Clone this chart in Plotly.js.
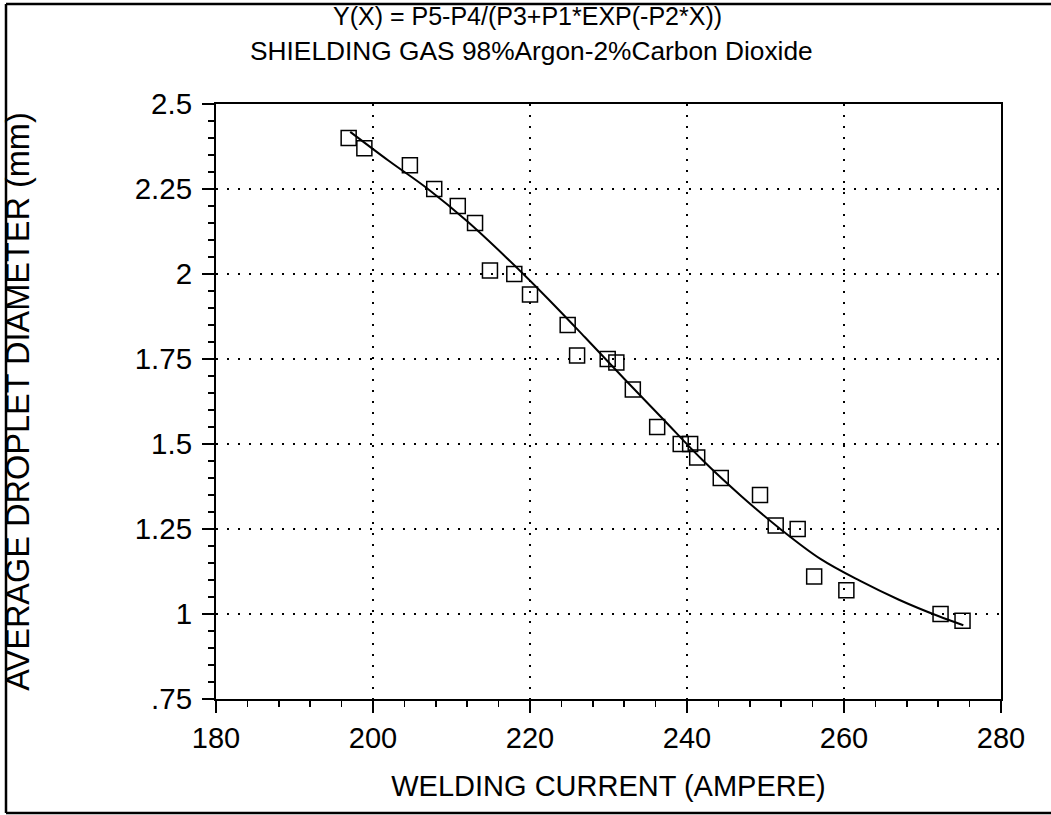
<!DOCTYPE html>
<html><head><meta charset="utf-8">
<script src="https://cdn.plot.ly/plotly-3.0.1.min.js"></script>
<style>html,body{margin:0;padding:0;background:#fff;} #chart{width:1051px;height:815px;}</style>
</head><body><div id="chart"></div>
<script>
// Measured droplet data (Welding current in A, average droplet diameter in mm)
const currentA   = [196.9, 198.9, 204.7, 207.8, 210.8, 213.0, 214.9, 218.0, 220.0, 224.8, 226.0, 229.9, 231.0, 233.1, 236.2, 239.2, 240.4, 241.3, 244.3, 249.3, 251.3, 254.1, 256.2, 260.3, 272.3, 275.1];
const diameterMm = [2.40, 2.37, 2.32, 2.25, 2.20, 2.15, 2.01, 2.00, 1.94, 1.85, 1.76, 1.75, 1.74, 1.66, 1.55, 1.50, 1.50, 1.46, 1.40, 1.35, 1.26, 1.25, 1.11, 1.07, 1.00, 0.98];
// Fitted curve
const fitCurrentA   = [197.1, 202, 207, 212, 217, 222, 227, 232, 237, 242, 247, 252, 257, 262, 267, 272, 275.2];
const fitDiameterMm = [2.418, 2.333, 2.250, 2.155, 2.048, 1.934, 1.814, 1.692, 1.572, 1.452, 1.345, 1.248, 1.162, 1.098, 1.042, 0.994, 0.967];
// Tick labels
const xTickVals = [180, 200, 220, 240, 260, 280];
const xTickText = ['180', '200', '220', '240', '260', '280'];
const yTickVals = [0.75, 1, 1.25, 1.5, 1.75, 2, 2.25, 2.5];
const yTickText = ['.75', '1', '1.25', '1.5', '1.75', '2', '2.25', '2.5'];
const titleLines = ['Y(X) = P5-P4/(P3+P1*EXP(-P2*X))', 'SHIELDING GAS 98%Argon-2%Carbon Dioxide'];
const xTitle = 'WELDING CURRENT (AMPERE)';
const yTitle = 'AVERAGE DROPLET DIAMETER (mm)';

const FONT = '"Liberation Sans", Arial, sans-serif';

const traces = [
  {x: fitCurrentA, y: fitDiameterMm, type: 'scatter', mode: 'lines',
   line: {color: '#000', width: 2, shape: 'spline', smoothing: 1}, hoverinfo: 'skip'},
  {x: currentA, y: diameterMm, type: 'scatter', mode: 'markers',
   marker: {symbol: 'square-open', size: 15, color: '#000', line: {width: 1.5, color: '#000'}}}
];

// plot area: x 216..1001, y 104..699 (px)
const L = 216, R = 1001, T = 104, B = 699, W = R - L, H = B - T;
const px = v => (v - L) / W;
const py = v => (B - v) / H;
const GRIDDASH = '2px,9px';

const layout = {
  width: 1051, height: 815,
  margin: {l: L, r: 1051 - R, t: T, b: 815 - B, pad: 0},
  paper_bgcolor: '#fff', plot_bgcolor: '#fff',
  showlegend: false,
  font: {family: FONT, color: '#000', size: 28},
  xaxis: {
    range: [180, 280], tickvals: xTickVals, ticktext: xTickText,
    ticks: 'outside', ticklen: 12, tickwidth: 1.5, tickcolor: '#000',
    showline: true, linecolor: '#000', linewidth: 2, mirror: true,
    showgrid: true, gridcolor: '#000', gridwidth: 1.5, griddash: GRIDDASH,
    zeroline: false,
    tickfont: {family: FONT, size: 29, color: '#000'},
    minor: {dtick: 4, ticks: 'outside', ticklen: 6, tickwidth: 1.5, tickcolor: '#000', showgrid: false},
    title: {text: xTitle, font: {family: FONT, size: 29, color: '#000'}, standoff: 23}
  },
  yaxis: {
    range: [0.75, 2.5], tickvals: yTickVals, ticktext: yTickText,
    ticks: 'outside', ticklen: 12, tickwidth: 1.5, tickcolor: '#000',
    showline: true, linecolor: '#000', linewidth: 2, mirror: true,
    showgrid: true, gridcolor: '#000', gridwidth: 1.5, griddash: GRIDDASH,
    zeroline: false, ticklabelstandoff: 4,
    tickfont: {family: FONT, size: 29.5, color: '#000'},
    minor: {dtick: 0.05, ticks: 'outside', ticklen: 6, tickwidth: 1.5, tickcolor: '#000', showgrid: false},
    title: {text: yTitle, font: {family: FONT, size: 32.5, color: '#000'}, standoff: 99}
  },
  annotations: [
    {text: titleLines[0], xref: 'paper', yref: 'paper', x: px(527.5), y: py(16), xanchor: 'center', yanchor: 'middle',
     showarrow: false, font: {family: FONT, size: 25, color: '#000'}},
    {text: titleLines[1], xref: 'paper', yref: 'paper', x: px(531), y: py(51), xanchor: 'center', yanchor: 'middle',
     showarrow: false, font: {family: FONT, size: 26.3, color: '#000'}}
  ],
  shapes: [
    {type: 'line', xref: 'paper', yref: 'paper', x0: px(6), x1: px(6), y0: py(4), y1: py(813), line: {color: '#000', width: 2.5}},
    {type: 'line', xref: 'paper', yref: 'paper', x0: px(6), x1: px(1051), y0: py(4), y1: py(4), line: {color: '#000', width: 2.5}},
    {type: 'line', xref: 'paper', yref: 'paper', x0: px(6), x1: px(1051), y0: py(813), y1: py(813), line: {color: '#000', width: 2.5}}
  ]
};

Plotly.newPlot('chart', traces, layout, {displayModeBar: false, staticPlot: true});
</script>
</body></html>
